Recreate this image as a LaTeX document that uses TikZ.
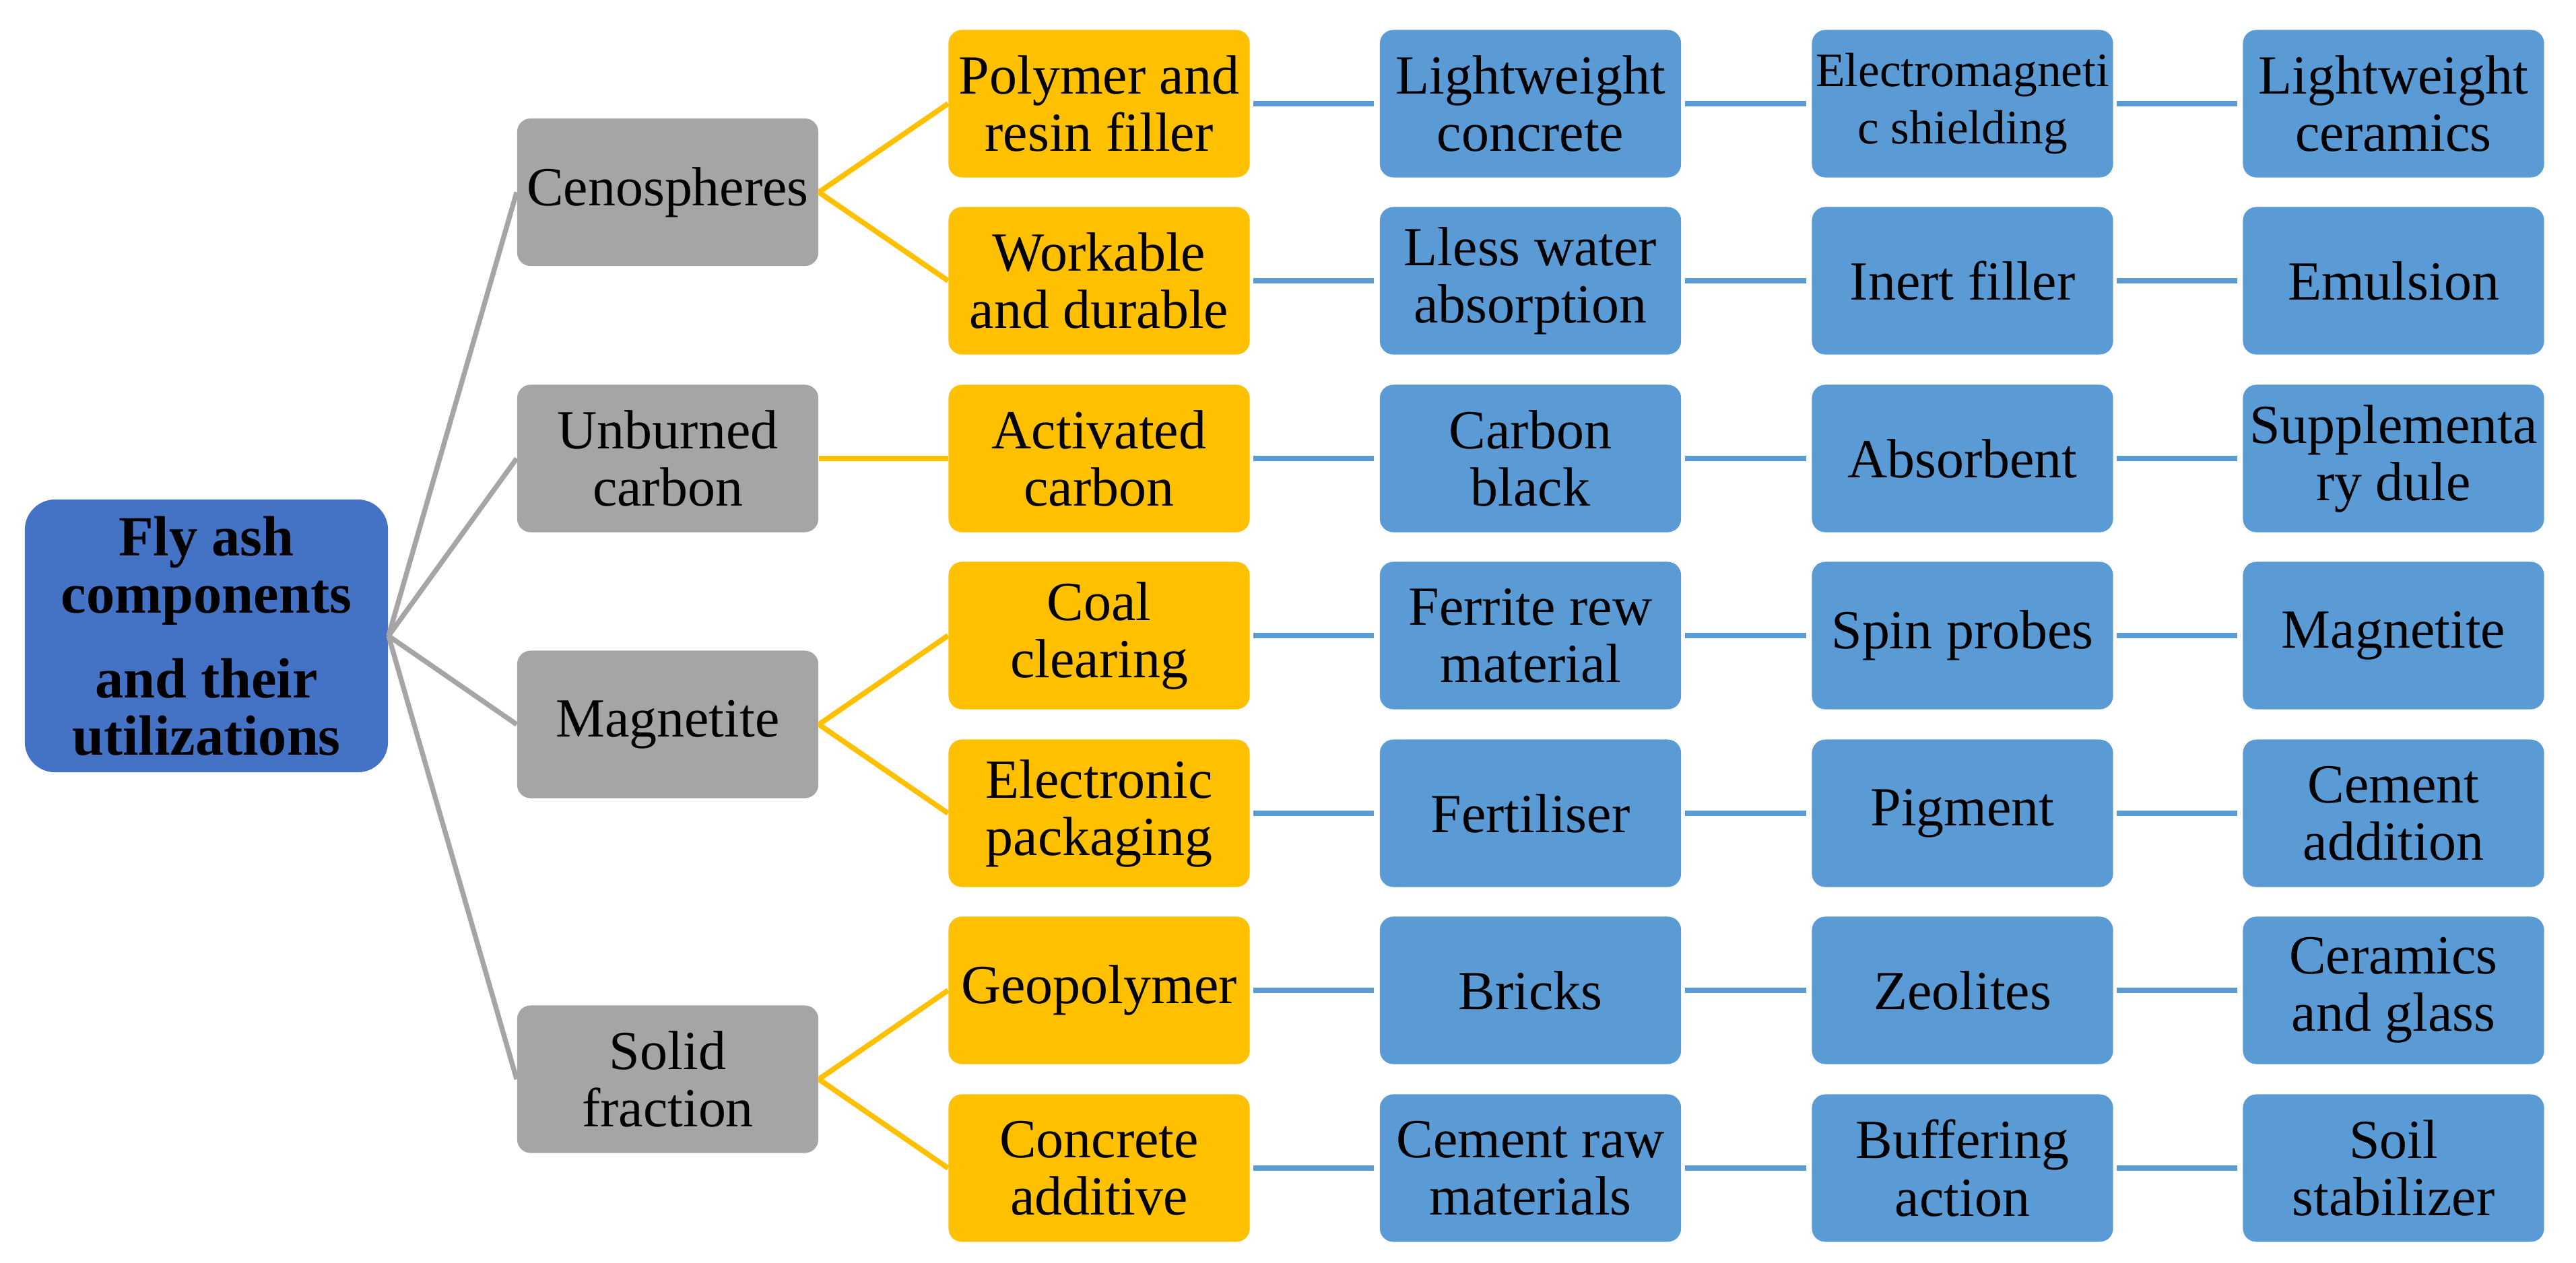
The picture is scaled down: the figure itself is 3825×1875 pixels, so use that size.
\documentclass[tikz,border=0pt]{standalone}
\usepackage{fontspec}
\setmainfont{Liberation Serif}
\definecolor{rootblue}{HTML}{4472C4}
\definecolor{cgray}{HTML}{A5A5A5}
\definecolor{cyellow}{HTML}{FFC000}
\definecolor{cblue}{HTML}{5B9BD5}
\begin{document}
\begin{tikzpicture}[x=0.01cm,y=-0.01cm,
  base/.style={rounded corners=0.2cm, minimum width=4.47cm, minimum height=2.19cm,
    inner sep=1pt, align=center, font=\fontsize{23.3}{24.2}\selectfont, text=black},
  graybox/.style={base, fill=cgray},
  yelbox/.style={base, fill=cyellow},
  bluebox/.style={base, fill=cblue},
  rootbox/.style={rounded corners=0.45cm, fill=rootblue, minimum width=5.39cm, minimum height=4.05cm,
    inner sep=1pt, align=center, font=\fontsize{24}{24.2}\selectfont\bfseries},
  gline/.style={draw=cgray, line width=2.1pt},
  yline/.style={draw=cyellow, line width=2.2pt},
  bline/.style={draw=cblue, line width=2.3pt, shorten <=0.05cm, shorten >=0.08cm}
]
\useasboundingbox (0,0) rectangle (3825,1875);
% root
\node[rootbox] (root) at (306.5,944.5) {Fly ash\\components\\[0.41cm]and their\\utilizations};
% gray
\node[graybox] (g1) at (991.5,285.5) {Cenospheres};
\node[graybox] (g2) at (991.5,681) {Unburned\\carbon};
\node[graybox] (g3) at (991.5,1076) {Magnetite};
\node[graybox] (g4) at (991.5,1603) {Solid\\fraction};
% yellow
\node[yelbox] (y1) at (1632,154) {Polymer and\\resin filler};
\node[yelbox] (y2) at (1632,417) {Workable\\and durable};
\node[yelbox] (y3) at (1632,681) {Activated\\carbon};
\node[yelbox] (y4) at (1632,944) {Coal\\clearing};
\node[yelbox] (y5) at (1632,1208) {Electronic\\packaging};
\node[yelbox] (y6) at (1632,1471) {Geopolymer};
\node[yelbox] (y7) at (1632,1735) {Concrete\\additive};
% blue column 2
\node[bluebox] (a1) at (2272.5,154) {Lightweight\\concrete};
\node[bluebox] (a2) at (2272.5,417) {Lless water\\absorption};
\node[bluebox] (a3) at (2272.5,681) {Carbon\\black};
\node[bluebox] (a4) at (2272.5,944) {Ferrite rew\\material};
\node[bluebox] (a5) at (2272.5,1208) {Fertiliser};
\node[bluebox] (a6) at (2272.5,1471) {Bricks};
\node[bluebox] (a7) at (2272.5,1735) {Cement raw\\materials};
% blue column 3
\node[bluebox, font=\fontsize{20.3}{24}\selectfont] (b1) at (2914,154) {Electromagneti\\c shielding};
\node[bluebox] (b2) at (2914,417) {Inert filler};
\node[bluebox] (b3) at (2914,681) {Absorbent};
\node[bluebox] (b4) at (2914,944) {Spin probes};
\node[bluebox] (b5) at (2914,1208) {Pigment};
\node[bluebox] (b6) at (2914,1471) {Zeolites};
\node[bluebox] (b7) at (2914,1735) {Buffering\\action};
% blue column 4
\node[bluebox] (c1) at (3554,154) {Lightweight\\ceramics};
\node[bluebox] (c2) at (3554,417) {Emulsion};
\node[bluebox] (c3) at (3554,681) {Supplementa\\ry dule};
\node[bluebox] (c4) at (3554,944) {Magnetite};
\node[bluebox] (c5) at (3554,1208) {Cement\\addition};
\node[bluebox] (c6) at (3554,1471) {Ceramics\\and glass};
\node[bluebox] (c7) at (3554,1735) {Soil\\stabilizer};
% connectors
\foreach \g in {g1,g2,g3,g4} \draw[gline] (root.east) -- (\g.west);
\draw[yline] (g1.east) -- (y1.west);
\draw[yline] (g1.east) -- (y2.west);
\draw[yline] (g2.east) -- (y3.west);
\draw[yline] (g3.east) -- (y4.west);
\draw[yline] (g3.east) -- (y5.west);
\draw[yline] (g4.east) -- (y6.west);
\draw[yline] (g4.east) -- (y7.west);
\foreach \i in {1,...,7} {
  \draw[bline] (y\i.east) -- (a\i.west);
  \draw[bline] (a\i.east) -- (b\i.west);
  \draw[bline] (b\i.east) -- (c\i.west);
}
\end{tikzpicture}
\end{document}
